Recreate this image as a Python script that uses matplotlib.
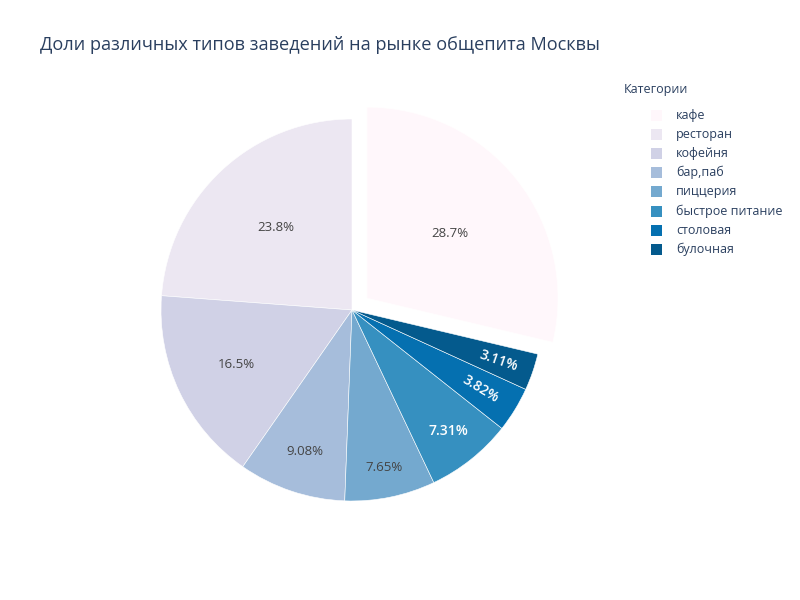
import matplotlib.pyplot as plt
import numpy as np

plt.rcParams['font.family'] = ['Open Sans', 'DejaVu Sans']

categories = ['кафе', 'ресторан', 'кофейня', 'бар,паб', 'пиццерия',
              'быстрое питание', 'столовая', 'булочная']
shares = [28.7, 23.8, 16.5, 9.08, 7.65, 7.31, 3.82, 3.11]
colors = ['#fff7fb', '#ece7f2', '#d0d1e6', '#a6bddb', '#74a9cf',
          '#3690c0', '#0570b0', '#045a8d']
label_texts = ['28.7%', '23.8%', '16.5%', '9.08%', '7.65%', '7.31%', '3.82%', '3.11%']

# styling of labels (radius fraction, colour, rotation)
lab_r = [0.55, 0.59, 0.67, 0.78, 0.84, 0.81, 0.79, 0.81]
lab_col = ['#444444'] * 5 + ['white'] * 3
lab_size = [9.5] * 5 + [10] * 3
rotate = [False] * 6 + [True, True]
pull = [0.1, 0, 0, 0, 0, 0, 0, 0]

fig = plt.figure(figsize=(8, 6), dpi=100)
R = 191
cx, cy = 352, 310
ax = fig.add_axes([(cx - R) / 800, 1 - (cy + R) / 600, 2 * R / 800, 2 * R / 600])
ax.set_xlim(-1, 1)
ax.set_ylim(-1, 1)
ax.axis('off')

vals = np.array(shares)
fr = vals / vals.sum()
# counterclockwise, first slice ends at 12 o'clock
start = 90.0 - fr[0] * 360
for i, f in enumerate(fr):
    t1 = start
    t2 = start + f * 360
    mid_deg = (t1 + t2) / 2
    mid = np.deg2rad(mid_deg)
    ox, oy = pull[i] * np.cos(mid), pull[i] * np.sin(mid)
    w = plt.matplotlib.patches.Wedge((ox, oy), 1, t1, t2, facecolor=colors[i],
                                     edgecolor='white', linewidth=0.4, clip_on=False)
    ax.add_patch(w)
    ax.text(ox + lab_r[i] * np.cos(mid), oy + lab_r[i] * np.sin(mid), label_texts[i],
            ha='center', va='center', fontsize=lab_size[i], color=lab_col[i],
            fontweight=('semibold' if lab_col[i] == 'white' else 'normal'),
            rotation=(mid_deg if rotate[i] else 0), rotation_mode='anchor')
    start = t2

fig.text(40 / 800, 1 - 45 / 600, 'Доли различных типов заведений на рынке общепита Москвы',
         fontsize=13.1, color='#2a3f5f', va='center', ha='left')

fig.text(624 / 800, 1 - 89 / 600, 'Категории', fontsize=9, color='#2a3f5f', va='center')
for i, c in enumerate(categories):
    y = 115 + i * 19.2
    fig.patches.append(plt.Rectangle((651 / 800, 1 - (y + 5.5) / 600), 11 / 800, 11 / 600,
                                     transform=fig.transFigure, facecolor=colors[i],
                                     edgecolor='none'))
    fig.text(676 / 800, 1 - y / 600, c, fontsize=9, color='#2a3f5f', va='center')

plt.savefig('out.png', dpi=100)
